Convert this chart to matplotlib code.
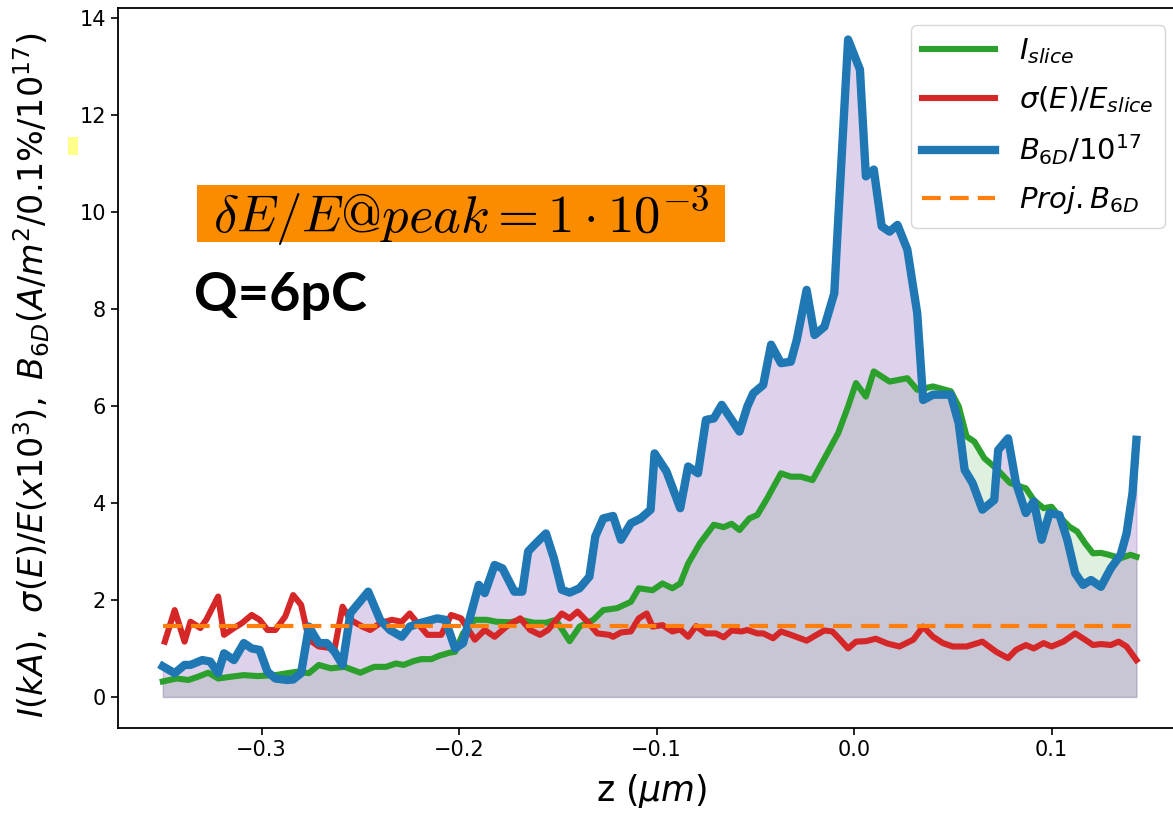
import numpy as np
import matplotlib
matplotlib.use("Agg")
import matplotlib.pyplot as plt
from matplotlib.patches import Rectangle

# slice current (kA)
z_i = [-0.350, -0.343, -0.337, -0.332, -0.327, -0.322, -0.315, -0.309, -0.302, -0.293,
       -0.287, -0.282, -0.276, -0.271, -0.265, -0.258, -0.250, -0.243, -0.237, -0.232,
       -0.228, -0.223, -0.219, -0.214, -0.210, -0.205, -0.202, -0.198, -0.192, -0.186,
       -0.181, -0.174, -0.169, -0.162, -0.156, -0.151, -0.144, -0.139, -0.132, -0.127,
       -0.120, -0.113, -0.109, -0.102, -0.097, -0.092, -0.088, -0.084, -0.078, -0.071,
       -0.066, -0.062, -0.058, -0.053, -0.049, -0.044, -0.037, -0.032, -0.027, -0.021,
       -0.014, -0.008, -0.003, 0.001, 0.006, 0.010, 0.018, 0.027, 0.032, 0.040,
       0.049, 0.053, 0.057, 0.061, 0.066, 0.072, 0.079, 0.087, 0.091, 0.096,
       0.100, 0.104, 0.109, 0.113, 0.117, 0.121, 0.125, 0.129, 0.135, 0.140, 0.143]
I_slice = [0.32, 0.38, 0.35, 0.42, 0.50, 0.38, 0.42, 0.45, 0.43, 0.45,
           0.49, 0.52, 0.49, 0.66, 0.59, 0.62, 0.50, 0.62, 0.62, 0.69,
           0.66, 0.74, 0.78, 0.78, 0.85, 0.91, 0.93, 1.31, 1.59, 1.59,
           1.55, 1.54, 1.59, 1.53, 1.53, 1.59, 1.15, 1.45, 1.59, 1.79,
           1.83, 1.96, 2.24, 2.20, 2.34, 2.24, 2.34, 2.75, 3.17, 3.55,
           3.50, 3.57, 3.44, 3.68, 3.75, 4.09, 4.61, 4.54, 4.54, 4.47,
           4.99, 5.44, 5.99, 6.47, 6.19, 6.71, 6.50, 6.57, 6.33, 6.40,
           6.30, 5.99, 5.37, 5.26, 4.92, 4.71, 4.41, 4.30, 4.06, 3.89,
           3.92, 3.72, 3.51, 3.41, 3.17, 2.96, 2.97, 2.93, 2.86, 2.93, 2.89]

# relative slice energy spread (x1e3)
z_s = [-0.349, -0.344, -0.339, -0.336, -0.331, -0.328, -0.322, -0.319, -0.314, -0.310,
       -0.305, -0.301, -0.297, -0.293, -0.288, -0.284, -0.280, -0.276, -0.271, -0.263,
       -0.259, -0.255, -0.249, -0.245, -0.240, -0.234, -0.229, -0.225, -0.221, -0.216,
       -0.209, -0.204, -0.199, -0.192, -0.187, -0.182, -0.176, -0.169, -0.164, -0.159,
       -0.155, -0.148, -0.144, -0.140, -0.135, -0.130, -0.124, -0.122, -0.118, -0.113,
       -0.109, -0.105, -0.102, -0.097, -0.092, -0.088, -0.084, -0.080, -0.075, -0.070,
       -0.066, -0.062, -0.057, -0.054, -0.049, -0.046, -0.041, -0.037, -0.032, -0.024,
       -0.019, -0.015, -0.011, -0.007, -0.003, 0.001, 0.006, 0.011, 0.017, 0.023,
       0.030, 0.035, 0.040, 0.045, 0.050, 0.057, 0.065, 0.072, 0.078, 0.082,
       0.087, 0.091, 0.096, 0.100, 0.106, 0.112, 0.117, 0.121, 0.125, 0.130,
       0.134, 0.138, 0.143]
sigE = [1.14, 1.79, 1.14, 1.55, 1.42, 1.59, 2.07, 1.28, 1.42, 1.52,
        1.69, 1.59, 1.38, 1.38, 1.66, 2.10, 1.90, 1.18, 1.04, 1.00,
        1.86, 1.59, 1.45, 1.38, 1.52, 1.59, 1.55, 1.72, 1.52, 1.28,
        1.28, 1.69, 1.62, 1.18, 1.38, 1.24, 1.45, 1.62, 1.38, 1.28,
        1.38, 1.72, 1.62, 1.76, 1.55, 1.31, 1.28, 1.24, 1.33, 1.35,
        1.62, 1.72, 1.45, 1.48, 1.35, 1.39, 1.24, 1.46, 1.31, 1.31,
        1.23, 1.37, 1.35, 1.38, 1.31, 1.31, 1.21, 1.35, 1.28, 1.16,
        1.28, 1.37, 1.35, 1.18, 1.00, 1.14, 1.15, 1.20, 1.10, 1.04,
        1.18, 1.45, 1.24, 1.11, 1.04, 1.04, 1.14, 0.93, 0.80, 0.97,
        1.07, 1.00, 1.11, 1.04, 1.14, 1.31, 1.18, 1.07, 1.09, 1.07,
        1.14, 1.04, 0.76]

# 6D brightness / 1e17
z_b = [-0.350, -0.344, -0.339, -0.336, -0.330, -0.326, -0.322, -0.319, -0.314, -0.309,
       -0.305, -0.301, -0.297, -0.293, -0.287, -0.284, -0.280, -0.276, -0.273, -0.271,
       -0.267, -0.263, -0.259, -0.255, -0.246, -0.240, -0.235, -0.229, -0.225, -0.220,
       -0.211, -0.207, -0.202, -0.198, -0.190, -0.187, -0.182, -0.178, -0.172, -0.168,
       -0.165, -0.161, -0.156, -0.152, -0.148, -0.144, -0.139, -0.134, -0.131, -0.127,
       -0.122, -0.118, -0.113, -0.108, -0.103, -0.101, -0.095, -0.088, -0.084, -0.079,
       -0.075, -0.071, -0.067, -0.058, -0.054, -0.051, -0.046, -0.042, -0.037, -0.032,
       -0.029, -0.024, -0.020, -0.015, -0.010, -0.008, -0.003, 0.003, 0.006, 0.010,
       0.014, 0.018, 0.022, 0.027, 0.032, 0.035, 0.040, 0.049, 0.053, 0.056,
       0.060, 0.065, 0.071, 0.073, 0.078, 0.082, 0.087, 0.091, 0.095, 0.099,
       0.104, 0.108, 0.112, 0.116, 0.120, 0.125, 0.130, 0.135, 0.138, 0.141, 0.143]
B6D = [0.63, 0.49, 0.66, 0.66, 0.76, 0.73, 0.49, 0.90, 0.76, 1.11,
       1.00, 0.97, 0.52, 0.38, 0.35, 0.36, 0.49, 1.45, 1.24, 1.11,
       1.11, 0.93, 0.66, 1.73, 2.17, 1.59, 1.38, 1.24, 1.45, 1.52,
       1.62, 1.59, 1.00, 1.11, 2.31, 2.14, 2.72, 2.65, 2.17, 2.17,
       3.00, 3.17, 3.37, 2.86, 2.21, 2.15, 2.24, 2.48, 3.31, 3.68,
       3.73, 3.24, 3.58, 3.68, 3.86, 5.02, 4.65, 3.89, 4.75, 4.61,
       5.71, 5.74, 6.02, 5.47, 5.99, 6.26, 6.43, 7.26, 6.88, 6.91,
       7.36, 8.39, 7.46, 7.63, 8.32, 9.84, 13.55, 12.93, 10.73, 10.87,
       9.70, 9.59, 9.73, 9.22, 7.91, 6.12, 6.23, 6.23, 5.64, 4.68,
       4.41, 3.86, 4.06, 5.09, 5.33, 4.41, 3.79, 4.03, 3.24, 3.79,
       3.75, 3.24, 2.55, 2.31, 2.41, 2.27, 2.65, 2.93, 3.37, 4.20, 5.30]

proj_B6D = 1.46

fig = plt.figure(figsize=(11.73, 8.21), dpi=100)
# right part of the axes runs off the picture, as in the reference crop
ax = fig.add_axes([118 / 1173, 93 / 821, 1067 / 1173, 720 / 821])

ax.fill_between(z_i, I_slice, color="tab:green", alpha=0.15)
ax.fill_between(z_b, B6D, color="tab:purple", alpha=0.3)
ax.plot(z_i, I_slice, color="tab:green", lw=4.4, label=r"$I_{slice}$")
ax.plot(z_s, sigE, color="tab:red", lw=4.4, label=r"$\sigma(E)/E_{slice}$")
ax.plot(z_b, B6D, color="tab:blue", lw=6, label=r"$B_{6D}/10^{17}$")
ax.plot([z_b[0], z_b[-1]], [proj_B6D, proj_B6D], color="tab:orange", lw=3,
        dashes=(4.5, 2.2), label=r"$Proj.B_{6D}$")

ax.set_xlim(-0.3727, (1185 - 854) / 1975)
ax.set_ylim(-0.64, 14.2)
ax.set_xticks([-0.3, -0.2, -0.1, 0.0, 0.1])
ax.set_yticks(np.arange(0, 15, 2))
ax.tick_params(axis="both", which="major", labelsize=15, width=1.2, length=5)
for s in ax.spines.values():
    s.set_linewidth(1.3)

ax.set_xlabel(r"z ($\mu m$)", fontsize=25, labelpad=9)
ax.set_ylabel(r"$I(kA),\ \sigma(E)/E(x10^3),\ B_{6D}(A/m^2/0.1\%/10^{17})$",
              fontsize=24)
ax.yaxis.set_label_coords((52 - 118) / 1067, 0.49)

ax.legend(loc="upper right", fontsize=21, handlelength=2.5, labelspacing=0.6,
          bbox_to_anchor=(1165 / 1173, 1 - 25 / 821),
          bbox_transform=fig.transFigure, borderaxespad=0)

# annotations pasted on the figure
fig.patches.append(Rectangle((197 / 1173, 1 - 242 / 821), 528 / 1173, 57 / 821,
                             transform=fig.transFigure, facecolor="#fb8c00",
                             edgecolor="none"))
fig.text(461 / 1173, 1 - 208 / 821, r"$\delta E/E@peak=1\cdot10^{-3}$", fontsize=38,
         math_fontfamily="cm", va="center_baseline", ha="center")
fig.text(0.165, 0.64, "Q=6pC", fontsize=39, fontweight="bold", family="Lato",
         va="center", ha="left")
fig.patches.append(Rectangle((68 / 1173, 1 - 155 / 821), 10 / 1173, 18 / 821,
                             transform=fig.transFigure, facecolor="#ffff8c",
                             edgecolor="none"))

fig.savefig("out.png", dpi=100)
